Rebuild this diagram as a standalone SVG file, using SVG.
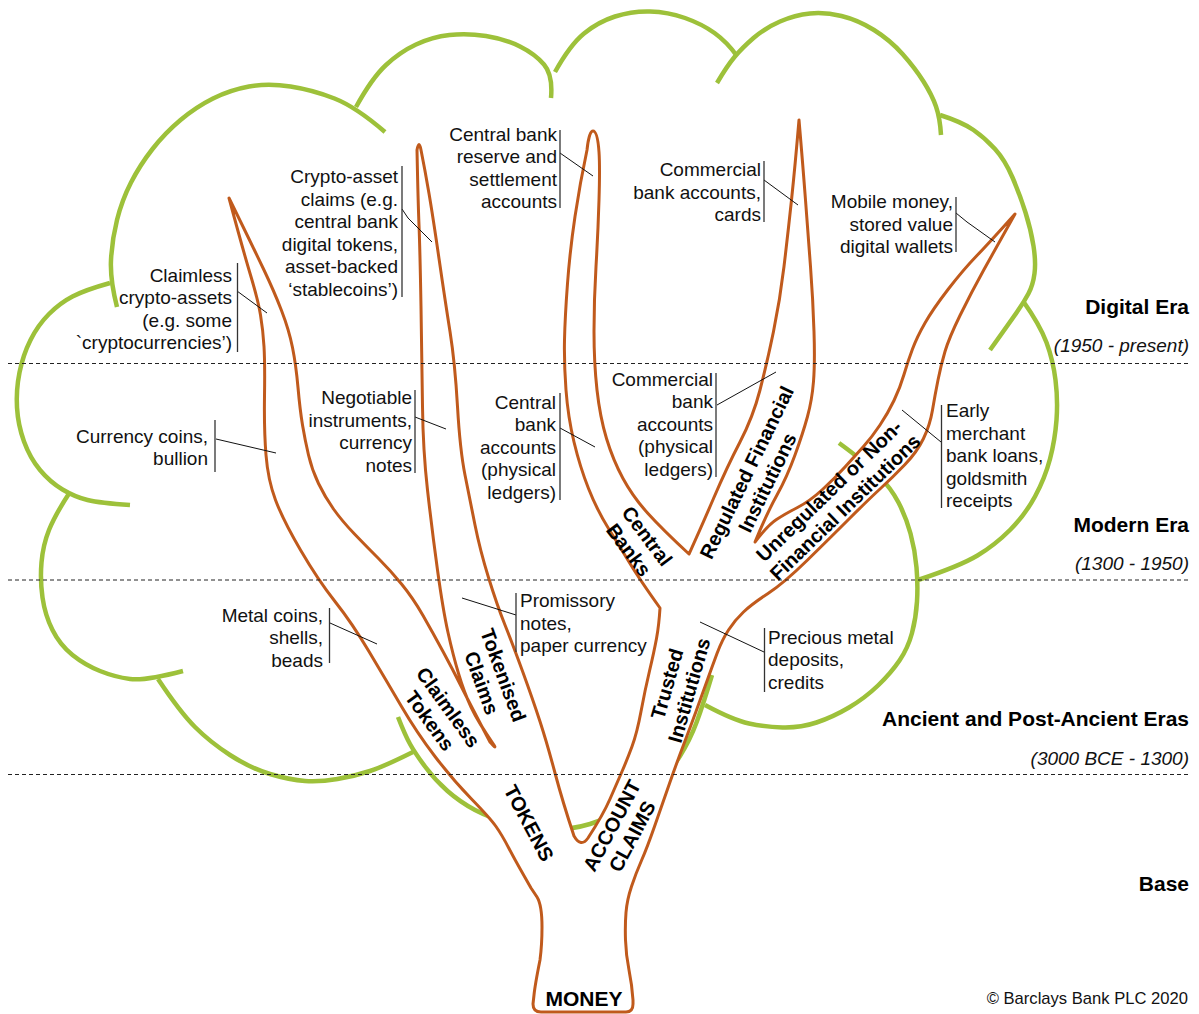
<svg xmlns="http://www.w3.org/2000/svg" width="1199" height="1014" viewBox="0 0 1199 1014">
<style>
.g{fill:none;stroke:#9dc13a;stroke-width:4.5}
.tree{fill:#fff;stroke:#c05a1c;stroke-width:3;stroke-linejoin:round}
.dash{stroke:#222;stroke-width:1;stroke-dasharray:4 3;fill:none}
.lbl{font-family:"Liberation Sans",Arial,sans-serif;font-size:19px;fill:#111}
.end{text-anchor:end}
.bar{stroke:#333;stroke-width:1.3;fill:none}
.ldr{stroke:#111;stroke-width:1;fill:none}
.bold{font-family:"Liberation Sans",Arial,sans-serif;font-weight:bold;font-size:20px;fill:#000;text-anchor:middle;dominant-baseline:central}
.era{font-family:"Liberation Sans",Arial,sans-serif;font-weight:bold;font-size:21px;fill:#000;text-anchor:end}
.date{font-family:"Liberation Sans",Arial,sans-serif;font-style:italic;font-size:19px;fill:#111;text-anchor:end}
</style>
<rect width="1199" height="1014" fill="#fff"/>
<g id="cloud">
<path class="g" d="M117,307 Q110,280 111,260 Q112,240 117,220 Q122,200 131,182.5 Q140,165 152.5,149 Q165,133 180.5,120 Q196,107 213,98.5 Q230,90 249,86.5 Q268,83 290.5,86.5 Q313,90 334.5,98.5 Q356,107 385,132"/>
<path class="g" d="M356,107 Q372,78 386,65 Q400,52 416,44.5 Q432,37 449.5,35 Q467,33 486,36 Q505,39 520,46.5 Q535,54 544,64.5 Q553,75 551,98"/>
<path class="g" d="M555,72 Q570,45 584,33.5 Q598,22 615,16.5 Q632,11 650,11.5 Q668,12 685,18 Q702,24 714.5,33 Q727,42 737,56"/>
<path class="g" d="M717,83 Q727,66 734.5,57 Q742,48 753.5,38 Q765,28 780,21.5 Q795,15 810,13.5 Q825,12 841.5,16 Q858,20 874,30 Q890,40 902.5,54 Q915,68 923.5,81.5 Q932,95 936,106.5 Q940,118 941,135"/>
<path class="g" d="M940,115 Q962,122 973.5,130 Q985,138 995,149 Q1005,160 1012.5,177.5 Q1020,195 1025.5,212.5 Q1031,230 1033.5,246 Q1036,262 1034.5,273.5 Q1033,285 1028.5,293.5 Q1024,302 1017,312 Q1010,322 990,350"/>
<path class="g" d="M1023,301 Q1040,325 1046.5,342.5 Q1053,360 1055.5,380 Q1058,400 1056.5,420 Q1055,440 1050,459 Q1045,478 1035,496.5 Q1025,515 1010,530 Q995,545 977.5,555.5 Q960,566 918,580"/>
<path class="g" d="M839,443 Q865,462 878,475 Q891,488 898.5,502.5 Q906,517 910.5,533.5 Q915,550 916.5,567.5 Q918,585 917,601.5 Q916,618 912,633 Q908,648 899.5,660.5 Q891,673 878,685.5 Q865,698 849,707.5 Q833,717 816.5,722.5 Q800,728 782.5,727.5 Q765,727 749,723.5 Q733,720 705,705"/>
<path class="g" d="M398,717 Q405,735 410,744 Q415,753 425,766.5 Q435,780 447.5,791 Q460,802 475,810 Q490,818 510,823 Q530,828 550,829 Q570,830 590,824 Q610,818 627.5,806.5 Q645,795 657.5,783.5 Q670,772 680,756 Q690,740 696.5,722.5 Q703,705 712,675"/>
<path class="g" d="M158,679 Q180,712 195,727 Q210,742 230,755 Q250,768 270,774 Q290,780 305,781 Q320,782 337.5,779 Q355,776 370,771 Q385,766 413,752"/>
<path class="g" d="M70,492 Q55,515 49,530 Q43,545 41.5,562.5 Q40,580 42.5,597.5 Q45,615 52.5,630 Q60,645 72.5,655 Q85,665 100,671 Q115,677 130,679 Q145,681 183,671"/>
<path class="g" d="M110,283 Q85,290 72.5,296.5 Q60,303 49,314 Q38,325 30.5,340 Q23,355 19.5,372.5 Q16,390 17,407.5 Q18,425 24,441.5 Q30,458 40,470 Q50,482 62.5,489.5 Q75,497 87.5,500 Q100,503 130,505"/>
</g>
<g id="tree">
<path class="tree" d="M541,1012 L626,1012 Q633,1012 633,1004 L633,1000
Q632,985 629,970 Q626,955 625.5,940 Q625,925 626,912.5 Q627,900 631.5,886.5 Q636,873 641.5,860.5 Q647,848 654.5,826.5 Q662,805 669.5,783.5 Q677,762 683.5,745 Q690,728 696,711.5 Q702,695 707,681 Q712,667 717,653.5 Q722,640 728.5,630 Q735,620 743.5,612 Q752,604 768,593.5 Q784,583 807,560.5 Q830,538 849,519 Q868,500 880.5,488.5 Q893,477 905,464.5 Q917,452 923.5,438.5 Q930,425 932.5,410 Q935,395 938,380 Q941,365 945,351.5 Q949,338 960,315.5 Q971,293 984,269.5 Q997,246 1015,214
Q990,242 976.5,256 Q963,270 948,289.5 Q933,309 925,323 Q917,337 912.5,349 Q908,361 904,374.5 Q900,388 894,400.5 Q888,413 880,425 Q872,437 863.5,446.5 Q855,456 845,467 Q835,478 822.5,489.5 Q810,501 797.5,507.5 Q785,514 776.5,519.5 Q768,525 755,542
Q767,513 777,495 Q787,477 795,455 Q803,433 807.5,416.5 Q812,400 813.5,381.5 Q815,363 814,331.5 Q813,300 810.5,266.5 Q808,233 805.5,200 Q803,167 799,120
Q795,167 791.5,200 Q788,233 784,266.5 Q780,300 773.5,331.5 Q767,363 760,390 Q753,417 740,442 Q727,467 713.5,498.5 Q700,530 689,554
Q663,530 648,513.5 Q633,497 623,478.5 Q613,460 606.5,438.5 Q600,417 597,390 Q594,363 594,331.5 Q594,300 596,266.5 Q598,233 599,200 Q600,167 599,152 C598,138 596,131 593,131 C590,131 588,140 587,150
Q580,183 575,216.5 Q570,250 567.5,283.5 Q565,317 564.5,340 Q564,363 566,390 Q568,417 574,442 Q580,467 588.5,488.5 Q597,510 608.5,528.5 Q620,547 630,563.5 Q640,580 660,608
Q659,625 656.5,638.5 Q654,652 649.5,671 Q645,690 641,711.5 Q637,733 632,746.5 Q627,760 622,771.5 Q617,783 610,799 Q603,815 588,838
Q581,848 574,836
Q563,803 555,773 Q547,743 540,721.5 Q533,700 523,672.5 Q513,645 505,625 Q497,605 488.5,577.5 Q480,550 475,525 Q470,500 465,475 Q460,450 457.5,406.5 Q455,363 450,331.5 Q445,300 439,258.5 Q433,217 429,193.5 Q425,170 421,150 Q419,139 417,150
Q418,200 419,225 Q420,250 421,306.5 Q422,363 422.5,406.5 Q423,450 427.5,490 Q432,530 437.5,570 Q443,610 448,632.5 Q453,655 458.5,673.5 Q464,692 471,707 Q478,722 494,745
Q497,750 490,742
Q469,702 461,686 Q453,670 443,651.5 Q433,633 423,615.5 Q413,598 401.5,584 Q390,570 378.5,558.5 Q367,547 354.5,534 Q342,521 333.5,509 Q325,497 318.5,483.5 Q312,470 308.5,455 Q305,440 302.5,425 Q300,410 298,387.5 Q296,365 292.5,347.5 Q289,330 281.5,310.5 Q274,291 263.5,269 Q253,247 229,198
Q243,250 250.5,275 Q258,300 260.5,315 Q263,330 264,346.5 Q265,363 264.5,396.5 Q264,430 266,455 Q268,480 275.5,500 Q283,520 300.5,550 Q318,580 335,601.5 Q352,623 369,651.5 Q386,680 401.5,706.5 Q417,733 435,756.5 Q453,780 471.5,799 Q490,818 496,826.5 Q502,835 509,848.5 Q516,862 531,888
L537,897 Q542,905 542,927 Q542,945 540,960 Q535,985 534,995 L533,1004 Q533,1012 541,1012 Z"/>
</g>
<g id="era-lines">
<line class="dash" x1="8" y1="363.5" x2="1191" y2="363.5"/>
<line class="dash" x1="8" y1="580" x2="1191" y2="580"/>
<line class="dash" x1="8" y1="774.5" x2="1191" y2="774.5"/>
</g>
<g id="branch-labels">
<text class="bold" x="584" y="998" style="font-size:21px">MONEY</text>
<text class="bold" transform="translate(529,823) rotate(62)">TOKENS</text>
<text class="bold" transform="translate(622,831) rotate(-62)"><tspan x="0" y="-11.5">ACCOUNT</tspan><tspan x="0" y="11.5">CLAIMS</tspan></text>
<text class="bold" transform="translate(439,714) rotate(54)"><tspan x="0" y="-11.5">Claimless</tspan><tspan x="0" y="11.5">Tokens</tspan></text>
<text class="bold" transform="translate(492.5,679) rotate(70)"><tspan x="0" y="-11.5">Tokenised</tspan><tspan x="0" y="11.5">Claims</tspan></text>
<text class="bold" transform="translate(678,687) rotate(-74)"><tspan x="0" y="-11.5">Trusted</tspan><tspan x="0" y="11.5">Institutions</tspan></text>
<text class="bold" transform="translate(638,543) rotate(53)"><tspan x="0" y="-11.5">Central</tspan><tspan x="0" y="11.5">Banks</tspan></text>
<text class="bold" transform="translate(757,477.5) rotate(-64)"><tspan x="0" y="-11.5">Regulated Financial</tspan><tspan x="0" y="11.5">Institutions</tspan></text>
<text class="bold" transform="translate(837,499) rotate(-44)"><tspan x="0" y="-11.5">Unregulated or Non-</tspan><tspan x="0" y="11.5">Financial Institutions</tspan></text>
</g>
<g id="leaders">
<polyline class="ldr" points="237,291 267,313"/>
<polyline class="ldr" points="402,209 408,218 432,242"/>
<polyline class="ldr" points="560,153 593,176"/>
<polyline class="ldr" points="764,180 798,205"/>
<polyline class="ldr" points="956,213 967,222 995,242"/>
<polyline class="ldr" points="216,439 276,453"/>
<polyline class="ldr" points="415,417 446,429"/>
<polyline class="ldr" points="560,428 595,447"/>
<polyline class="ldr" points="717,405 776,372"/>
<polyline class="ldr" points="941,442 902,410"/>
<polyline class="ldr" points="330,623 377,644"/>
<polyline class="ldr" points="516,615 462,598"/>
<polyline class="ldr" points="764,652 700,622"/>
</g>
<g id="label-claimless-crypto">
<line class="bar" x1="237.5" y1="263" x2="237.5" y2="352"/>
<text class="lbl end"><tspan x="232" y="281.5">Claimless</tspan><tspan x="232" y="304">crypto-assets</tspan><tspan x="232" y="326.5">(e.g. some</tspan><tspan x="232" y="349">`cryptocurrencies’)</tspan></text>
</g>
<g id="label-crypto-claims">
<line class="bar" x1="402" y1="166" x2="402" y2="297"/>
<text class="lbl end"><tspan x="398" y="183">Crypto-asset</tspan><tspan x="398" y="205.5">claims (e.g.</tspan><tspan x="398" y="228">central bank</tspan><tspan x="398" y="250.5">digital tokens,</tspan><tspan x="398" y="273">asset-backed</tspan><tspan x="398" y="295.5">‘stablecoins’)</tspan></text>
</g>
<g id="label-cb-reserve">
<line class="bar" x1="560" y1="130" x2="560" y2="208"/>
<text class="lbl end"><tspan x="557" y="140.5">Central bank</tspan><tspan x="557" y="163">reserve and</tspan><tspan x="557" y="185.5">settlement</tspan><tspan x="557" y="208">accounts</tspan></text>
</g>
<g id="label-commercial-cards">
<line class="bar" x1="764" y1="161" x2="764" y2="222"/>
<text class="lbl end"><tspan x="761" y="176">Commercial</tspan><tspan x="761" y="198.5">bank accounts,</tspan><tspan x="761" y="220.5">cards</tspan></text>
</g>
<g id="label-mobile">
<line class="bar" x1="956" y1="197" x2="956" y2="252"/>
<text class="lbl end"><tspan x="953" y="208">Mobile money,</tspan><tspan x="953" y="230.5">stored value</tspan><tspan x="953" y="253">digital wallets</tspan></text>
</g>
<g id="label-currency-coins">
<line class="bar" x1="215" y1="420" x2="215" y2="472"/>
<text class="lbl end"><tspan x="208" y="442.5">Currency coins,</tspan><tspan x="208" y="465">bullion</tspan></text>
</g>
<g id="label-negotiable">
<line class="bar" x1="415" y1="390" x2="415" y2="473"/>
<text class="lbl end"><tspan x="412" y="404">Negotiable</tspan><tspan x="412" y="426.5">instruments,</tspan><tspan x="412" y="449">currency</tspan><tspan x="412" y="471.5">notes</tspan></text>
</g>
<g id="label-cb-accounts">
<line class="bar" x1="560" y1="393" x2="560" y2="500"/>
<text class="lbl end"><tspan x="556" y="408.5">Central</tspan><tspan x="556" y="431">bank</tspan><tspan x="556" y="453.5">accounts</tspan><tspan x="556" y="476">(physical</tspan><tspan x="556" y="498.5">ledgers)</tspan></text>
</g>
<g id="label-commercial-physical">
<line class="bar" x1="716" y1="373" x2="716" y2="477"/>
<text class="lbl end"><tspan x="713" y="385.5">Commercial</tspan><tspan x="713" y="408">bank</tspan><tspan x="713" y="430.5">accounts</tspan><tspan x="713" y="453">(physical</tspan><tspan x="713" y="475.5">ledgers)</tspan></text>
</g>
<g id="label-early-merchant">
<line class="bar" x1="941.5" y1="405" x2="941.5" y2="508"/>
<text class="lbl"><tspan x="946" y="417">Early</tspan><tspan x="946" y="439.5">merchant</tspan><tspan x="946" y="462">bank loans,</tspan><tspan x="946" y="484.5">goldsmith</tspan><tspan x="946" y="507">receipts</tspan></text>
</g>
<g id="label-metal-coins">
<line class="bar" x1="329.5" y1="608" x2="329.5" y2="663"/>
<text class="lbl end"><tspan x="323" y="621.5">Metal coins,</tspan><tspan x="323" y="644">shells,</tspan><tspan x="323" y="666.5">beads</tspan></text>
</g>
<g id="label-promissory">
<line class="bar" x1="516" y1="593" x2="516" y2="652"/>
<text class="lbl"><tspan x="520" y="607">Promissory</tspan><tspan x="520" y="629.5">notes,</tspan><tspan x="520" y="652">paper currency</tspan></text>
</g>
<g id="label-precious">
<line class="bar" x1="764.5" y1="628" x2="764.5" y2="692"/>
<text class="lbl"><tspan x="768" y="643.5">Precious metal</tspan><tspan x="768" y="666">deposits,</tspan><tspan x="768" y="688.5">credits</tspan></text>
</g>
<g id="era-labels">
<text class="era" x="1189" y="314">Digital Era</text>
<text class="date" x="1189" y="352">(1950 - present)</text>
<text class="era" x="1189" y="532">Modern Era</text>
<text class="date" x="1189" y="570">(1300 - 1950)</text>
<text class="era" x="1189" y="726">Ancient and Post-Ancient Eras</text>
<text class="date" x="1189" y="765">(3000 BCE - 1300)</text>
<text class="era" x="1189" y="891">Base</text>
<text class="lbl end" x="1188" y="1003.5" style="font-size:16.6px">© Barclays Bank PLC 2020</text>
</g>
</svg>
